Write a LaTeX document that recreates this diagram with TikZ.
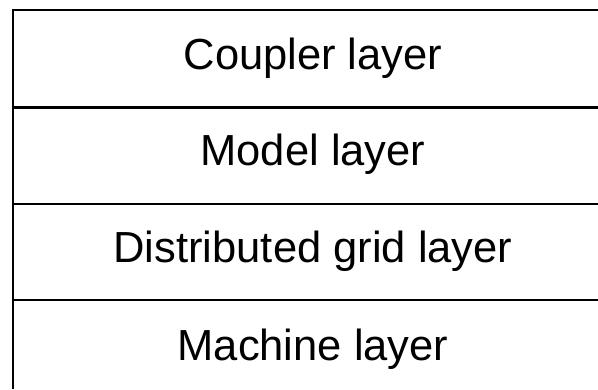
\documentclass[tikz,border=0pt]{standalone}
\usepackage{fontspec}
\setmainfont{Liberation Sans}
\usepackage{xcolor}

\tikzset{
    layer/.style={anchor=base, inner sep=0pt, font=\fontsize{43.5}{52}\selectfont},
    rule/.style={line width=2pt}
}

\begin{document}
\begin{tikzpicture}[x=1pt, y=1pt]
    \useasboundingbox (0,0) rectangle (598,389);

    % Corners of the frame
    \coordinate (topleft) at (13.3,378.5);
    \coordinate (topright) at (598,378.5);
    \coordinate (botleft) at (13.3,0);

    % Draw frame
    \draw[rule] (botleft) -- (topleft) -- (topright);

    % Draw separators
    \coordinate (sepA) at (13.3,281.5);
    \coordinate (sepB) at (13.3,185);
    \coordinate (sepC) at (13.3,89);
    \draw[line width=3.2pt] (sepA) -- (sepA -| topright);
    \draw[rule] (sepB) -- (sepB -| topright);
    \draw[rule] (sepC) -- (sepC -| topright);

    % Layer names
    \node[layer] (coupler) at (313,319) {Coupler layer};
    \node[layer] (model) at (313,223) {Model layer};
    \node[layer] (grid) at (313,127) {Distributed grid layer};
    \node[layer] (machine) at (313,29) {Machine layer};
\end{tikzpicture}
\end{document}
